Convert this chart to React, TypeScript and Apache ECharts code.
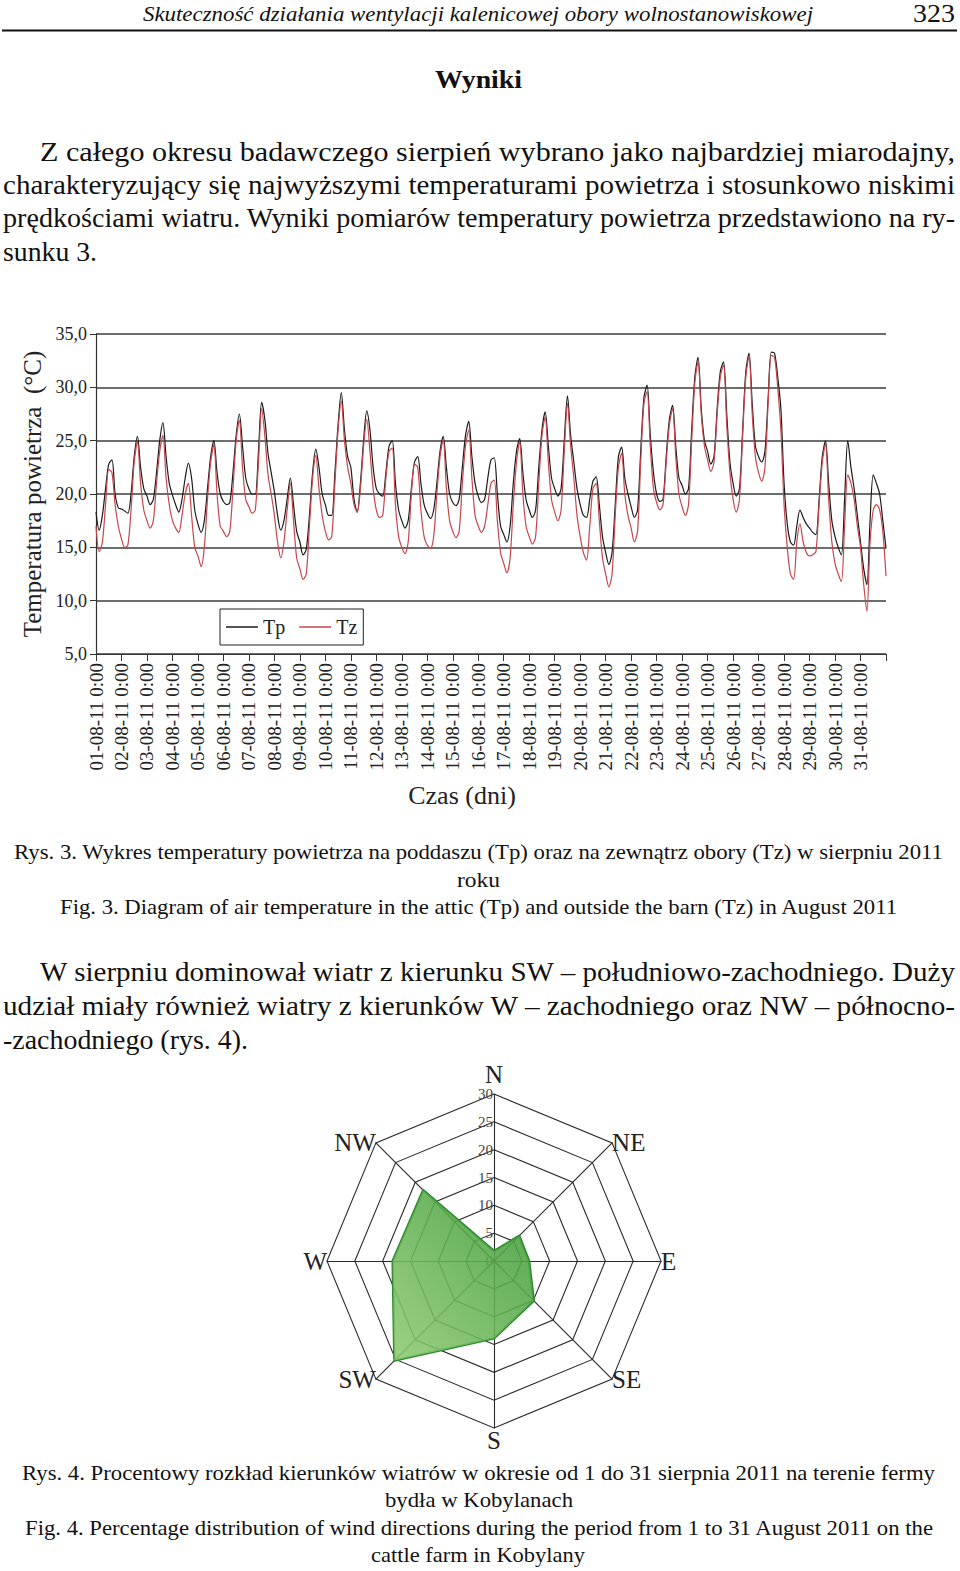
import React, { useEffect, useRef } from "react";
import * as echarts from "echarts";

const FONT = '"Liberation Serif", "Times New Roman", serif';

// ---------- Line chart data (Rys. 3) ----------
const HOURS = [0, 3, 6, 9, 12, 15, 18, 21];
const dayLabels = [
  "01-08-11 0:00", "02-08-11 0:00", "03-08-11 0:00", "04-08-11 0:00", "05-08-11 0:00",
  "06-08-11 0:00", "07-08-11 0:00", "08-08-11 0:00", "09-08-11 0:00", "10-08-11 0:00",
  "11-08-11 0:00", "12-08-11 0:00", "13-08-11 0:00", "14-08-11 0:00", "15-08-11 0:00",
  "16-08-11 0:00", "17-08-11 0:00", "18-08-11 0:00", "19-08-11 0:00", "20-08-11 0:00",
  "21-08-11 0:00", "22-08-11 0:00", "23-08-11 0:00", "24-08-11 0:00", "25-08-11 0:00",
  "26-08-11 0:00", "27-08-11 0:00", "28-08-11 0:00", "29-08-11 0:00", "30-08-11 0:00",
  "31-08-11 0:00",
];
const yTickLabels = ["5,0", "10,0", "15,0", "20,0", "25,0", "30,0", "35,0"];

// Tp – attic temperature, one row per day, values at HOURS
const tpDaily = [
  [18.3, 16.6, 18.0, 20.5, 22.8, 23.2, 20.0, 18.7],
  [18.6, 18.4, 18.2, 20.0, 23.5, 25.4, 22.5, 20.5],
  [19.8, 19.0, 19.5, 22.0, 25.0, 26.7, 23.5, 21.0],
  [19.9, 19.0, 18.3, 19.5, 21.5, 22.9, 21.5, 18.5],
  [17.2, 16.4, 17.5, 20.5, 23.5, 25.0, 22.0, 20.0],
  [19.3, 19.0, 19.2, 22.0, 25.5, 27.5, 24.5, 21.5],
  [20.5, 20.0, 20.0, 24.0, 28.6, 27.0, 23.8, 22.0],
  [20.2, 18.0, 16.6, 17.5, 19.5, 21.5, 19.0, 16.5],
  [15.5, 14.3, 14.8, 18.0, 22.0, 24.2, 22.5, 20.0],
  [19.0, 18.0, 18.0, 22.0, 26.5, 29.5, 26.0, 23.5],
  [22.5, 19.5, 18.3, 21.0, 25.0, 27.8, 26.0, 22.5],
  [20.5, 20.0, 19.8, 22.0, 24.5, 25.0, 21.0, 18.5],
  [17.5, 16.8, 17.5, 20.5, 23.0, 23.5, 21.0, 19.0],
  [18.2, 17.7, 18.5, 21.0, 24.0, 25.4, 22.5, 20.0],
  [19.2, 18.9, 19.5, 22.5, 25.5, 26.8, 23.5, 21.0],
  [19.8, 19.2, 19.5, 21.5, 23.2, 23.4, 20.0, 17.0],
  [16.2, 15.5, 17.0, 21.0, 24.0, 25.2, 22.0, 19.5],
  [18.5, 17.8, 18.5, 22.5, 26.0, 27.7, 24.5, 21.5],
  [20.5, 19.8, 20.5, 25.0, 29.2, 25.5, 23.0, 20.5],
  [19.0, 18.0, 17.8, 19.5, 21.2, 21.6, 19.0, 16.0],
  [14.5, 13.4, 14.5, 19.0, 23.5, 24.4, 21.5, 20.0],
  [18.8, 17.8, 18.5, 24.0, 29.0, 30.2, 25.5, 22.0],
  [20.0, 19.3, 19.5, 23.5, 27.0, 28.3, 24.5, 21.5],
  [20.8, 20.0, 20.5, 26.0, 31.0, 32.8, 28.0, 25.0],
  [24.0, 22.8, 23.5, 28.0, 31.5, 32.4, 27.5, 23.0],
  [21.0, 19.8, 20.5, 26.0, 31.5, 33.2, 28.5, 24.5],
  [23.5, 23.0, 24.0, 29.0, 33.3, 33.2, 31.0, 28.0],
  [21.0, 17.2, 15.5, 15.2, 17.0, 18.5, 17.8, 17.2],
  [16.8, 16.4, 16.2, 19.5, 23.5, 25.0, 21.0, 17.5],
  [16.0, 15.0, 14.3, 19.5, 25.0, 22.5, 20.5, 18.0],
  [15.5, 13.0, 11.5, 17.5, 21.8, 21.0, 20.0, 17.5],
];
const tpEnd = 14.9;

// Tz – outside temperature
const tzDaily = [
  [17.0, 14.6, 15.5, 19.0, 22.3, 22.0, 19.0, 17.0],
  [15.8, 15.0, 15.2, 18.5, 23.0, 24.9, 21.0, 18.5],
  [17.5, 16.8, 17.5, 21.0, 24.0, 25.5, 21.5, 19.0],
  [17.5, 16.8, 16.4, 18.0, 20.0, 21.0, 18.0, 15.0],
  [14.2, 13.2, 15.0, 19.5, 23.0, 24.6, 20.0, 17.0],
  [16.5, 16.0, 16.5, 20.5, 25.0, 26.9, 22.5, 19.5],
  [18.8, 18.2, 18.5, 23.0, 28.0, 25.5, 21.8, 20.0],
  [18.0, 15.5, 14.0, 15.5, 18.5, 21.0, 17.5, 14.0],
  [13.0, 12.0, 12.5, 17.0, 21.5, 23.6, 20.5, 18.0],
  [16.5, 15.7, 16.0, 21.0, 26.0, 28.7, 25.0, 22.5],
  [21.0, 19.0, 18.3, 20.5, 24.5, 27.0, 24.0, 20.5],
  [18.5, 17.8, 18.0, 21.5, 24.0, 24.3, 19.0, 16.0],
  [15.0, 14.4, 15.5, 20.0, 22.8, 22.5, 18.5, 16.0],
  [15.2, 14.9, 16.0, 20.0, 23.5, 25.1, 20.5, 17.5],
  [16.5, 15.9, 16.5, 21.0, 24.5, 26.0, 21.5, 18.0],
  [17.0, 16.4, 17.0, 19.0, 21.0, 21.3, 17.5, 14.5],
  [13.5, 12.6, 14.0, 19.0, 23.0, 24.9, 20.0, 17.0],
  [16.0, 15.3, 16.0, 21.0, 25.5, 27.2, 23.0, 19.5],
  [18.3, 17.5, 18.5, 24.0, 28.5, 24.5, 21.5, 18.0],
  [16.0, 14.5, 13.8, 17.0, 20.5, 21.0, 17.5, 14.0],
  [12.5, 11.3, 12.5, 18.0, 22.5, 23.8, 20.0, 18.0],
  [16.8, 15.5, 16.5, 23.0, 28.5, 29.6, 24.5, 20.5],
  [19.2, 18.5, 19.0, 23.0, 26.5, 28.0, 23.5, 20.0],
  [18.8, 18.0, 19.0, 25.0, 30.5, 32.4, 27.5, 24.5],
  [23.2, 22.1, 23.0, 27.5, 31.0, 32.1, 26.5, 22.0],
  [19.5, 18.3, 19.5, 25.5, 31.0, 32.9, 27.5, 23.5],
  [22.0, 21.2, 22.5, 28.5, 33.0, 32.8, 30.0, 26.0],
  [19.0, 15.0, 12.5, 12.0, 15.5, 17.2, 15.5, 14.5],
  [14.2, 14.3, 14.6, 19.0, 23.0, 24.7, 19.5, 15.5],
  [13.5, 12.5, 11.8, 17.0, 21.8, 21.0, 19.5, 17.0],
  [15.0, 11.5, 9.0, 15.5, 18.5, 19.0, 18.5, 16.5],
];
const tzEnd = 12.3;

// ---------- Radar data (Rys. 4) ----------
// counter-clockwise from the top, as ECharts places radar indicators
const windDirections = ["N", "NW", "W", "SW", "S", "SE", "E", "NE"];
const windShare = [1.8, 18.0, 18.2, 25.3, 13.9, 10.1, 6.3, 6.4];
const windMax = 30;

// ---------- Page text ----------
type PageLine = { t: string; x: number; y: number; w: number; size: number; anchor?: "start" | "middle"; italic?: boolean; bold?: boolean };
const pageLines: PageLine[] = [
  { t: "Skuteczność działania wentylacji kalenicowej  obory wolnostanowiskowej", x: 143, y: 21, w: 670, size: 21, italic: true },
  { t: "323", x: 913, y: 22, w: 42, size: 26 },
  { t: "Wyniki", x: 478.5, y: 88, w: 87, size: 25, bold: true, anchor: "middle" },
  { t: "Z całego okresu badawczego sierpień wybrano jako najbardziej miarodajny,", x: 40, y: 161, w: 915, size: 27 },
  { t: "charakteryzujący się najwyższymi temperaturami powietrza i stosunkowo niskimi", x: 3, y: 194, w: 952, size: 27 },
  { t: "prędkościami wiatru. Wyniki pomiarów temperatury powietrza przedstawiono na ry-", x: 3, y: 227, w: 952, size: 27 },
  { t: "sunku 3.", x: 3, y: 261, w: 94, size: 27 },
  { t: "Rys. 3. Wykres temperatury powietrza na poddaszu (Tp) oraz na zewnątrz obory (Tz) w sierpniu 2011", x: 14, y: 859, w: 929, size: 22 },
  { t: "roku", x: 478.5, y: 887, w: 43, size: 22, anchor: "middle" },
  { t: "Fig. 3. Diagram of air temperature in the attic (Tp) and outside the barn (Tz) in August 2011", x: 60, y: 914, w: 837, size: 22 },
  { t: "W sierpniu dominował wiatr z kierunku SW – południowo-zachodniego. Duży", x: 40, y: 981, w: 915, size: 27 },
  { t: "udział miały również wiatry z kierunków W – zachodniego oraz NW – północno-", x: 3, y: 1015, w: 952, size: 27 },
  { t: "-zachodniego (rys. 4).", x: 3, y: 1049, w: 245, size: 27 },
  { t: "Rys. 4. Procentowy rozkład kierunków wiatrów w okresie od 1 do 31 sierpnia 2011 na terenie fermy", x: 22, y: 1480, w: 913, size: 22 },
  { t: "bydła w Kobylanach", x: 479, y: 1507, w: 188, size: 22, anchor: "middle" },
  { t: "Fig. 4. Percentage distribution of wind directions during the period from 1 to 31 August 2011 on the", x: 25, y: 1535, w: 908, size: 22 },
  { t: "cattle farm in Kobylany", x: 478, y: 1562, w: 214, size: 22, anchor: "middle" },
];

function buildSeries(daily: number[][], end: number): number[][] {
  const out: number[][] = [];
  daily.forEach((row, d) => {
    row.forEach((v, i) => out.push([d * 24 + HOURS[i], v]));
  });
  out.push([daily.length * 24, end]);
  return out;
}

export default function App() {
  const ref = useRef<HTMLDivElement>(null);

  useEffect(() => {
    document.body.style.margin = "0";
    if (!ref.current) return;
    const chart = echarts.init(ref.current, undefined, { renderer: "svg" });
    const totalHours = dayLabels.length * 24;
    const ringLabel = { show: true, fontSize: 15, fontFamily: FONT, color: "#444", margin: 1 };

    const option: any = {
      animation: false,
      backgroundColor: "transparent",
      textStyle: { fontFamily: FONT },
      grid: { left: 96, top: 334, width: 790, height: 320, containLabel: false },
      legend: {
        data: ["Tp", "Tz"],
        left: 220,
        top: 609,
        orient: "horizontal",
        icon: "rect",
        itemWidth: 32,
        itemHeight: 1.5,
        itemGap: 14,
        padding: [8, 6, 8, 6],
        borderColor: "#222",
        borderWidth: 1,
        borderRadius: 0,
        backgroundColor: "#fff",
        textStyle: { fontSize: 20, fontFamily: FONT, color: "#222" },
      },
      xAxis: {
        type: "value",
        min: 0,
        max: totalHours,
        interval: 24,
        axisLine: { show: true, onZero: false, lineStyle: { color: "#333", width: 1.2 } },
        axisTick: { show: true, length: 7, lineStyle: { color: "#333", width: 1 } },
        splitLine: { show: false },
        axisLabel: {
          rotate: 90,
          margin: 9,
          fontSize: 19,
          fontFamily: FONT,
          color: "#222",
          formatter: (v: number) => dayLabels[Math.round(v / 24)] ?? "",
        },
        name: "Czas (dni)",
        nameLocation: "middle",
        nameGap: 128,
        nameTextStyle: { fontSize: 26, fontFamily: FONT, color: "#222", padding: [0, 58, 0, 0] },
      },
      yAxis: {
        type: "value",
        min: 5,
        max: 35,
        interval: 5,
        axisLine: { show: true, lineStyle: { color: "#333", width: 1.2 } },
        axisTick: { show: true, length: 6, lineStyle: { color: "#333" } },
        splitLine: { show: true, lineStyle: { color: "#3c3c3c", width: 1.6 } },
        axisLabel: {
          margin: 9,
          fontSize: 18,
          fontFamily: FONT,
          color: "#222",
          formatter: (v: number) => yTickLabels[Math.round((v - 5) / 5)] ?? "",
        },
        name: "Temperatura powietrza  (°C)",
        nameLocation: "middle",
        nameRotate: 90,
        nameGap: 51,
        nameTextStyle: { fontSize: 25, fontFamily: FONT, color: "#222" },
      },
      radar: {
        center: [494, 1261],
        radius: 167,
        startAngle: 90,
        splitNumber: 6,
        shape: "polygon",
        nameGap: 0,
        axisName: { color: "#222", fontSize: 25, fontFamily: FONT },
        indicator: windDirections.map((n, i) =>
          i === 0
            ? { name: n, min: 0, max: windMax, axisLabel: ringLabel }
            : { name: n, min: 0, max: windMax }
        ),
        splitLine: { lineStyle: { color: "#2a2a2a", width: 1.1 } },
        splitArea: { show: false },
        axisLine: { lineStyle: { color: "#2a2a2a", width: 1.1 } },
        axisTick: { show: false },
        axisLabel: { show: false, fontSize: 15, fontFamily: FONT, color: "#444", margin: 1 },
      },
      series: [
        {
          name: "Tp",
          type: "line",
          data: buildSeries(tpDaily, tpEnd),
          showSymbol: false,
          symbol: "none",
          smooth: 0.3,
          lineStyle: { color: "#1a1a1a", width: 1.2 },
          itemStyle: { color: "#1a1a1a" },
          z: 2,
        },
        {
          name: "Tz",
          type: "line",
          data: buildSeries(tzDaily, tzEnd),
          showSymbol: false,
          symbol: "none",
          smooth: 0.3,
          lineStyle: { color: "#c6464c", width: 1.2 },
          itemStyle: { color: "#c6464c" },
          z: 3,
        },
        {
          name: "Wiatr",
          type: "radar",
          symbol: "none",
          data: [{ value: windShare, name: "Wiatr" }],
          lineStyle: { color: "#2a8a2e", width: 2.5 },
          areaStyle: {
            opacity: 0.88,
            color: new echarts.graphic.LinearGradient(1, 0, 0, 1, [
              { offset: 0, color: "#3a9835" },
              { offset: 1, color: "#8ecb72" },
            ]),
          },
        },
      ],
    };
    chart.setOption(option);
    return () => chart.dispose();
  }, []);

  return (
    <div style={{ position: "absolute", left: 0, top: 0, width: 960, height: 1571, background: "#fff", overflow: "hidden" }}>
      <svg
        width={960}
        height={1571}
        style={{ position: "absolute", left: 0, top: 0 }}
        xmlns="http://www.w3.org/2000/svg"
      >
        <line x1={2} y1={30.5} x2={957} y2={30.5} stroke="#111" strokeWidth={2} />
        {pageLines.map((l, i) => (
          <text
            key={i}
            x={l.x}
            y={l.y}
            textLength={l.w}
            lengthAdjust="spacingAndGlyphs"
            textAnchor={l.anchor ?? "start"}
            fontFamily={FONT}
            fontSize={l.size}
            fontStyle={l.italic ? "italic" : "normal"}
            fontWeight={l.bold ? "bold" : "normal"}
            fill="#111"
          >
            {l.t}
          </text>
        ))}
      </svg>
      <div ref={ref} style={{ position: "absolute", left: 0, top: 0, width: 960, height: 1571 }} />
    </div>
  );
}
